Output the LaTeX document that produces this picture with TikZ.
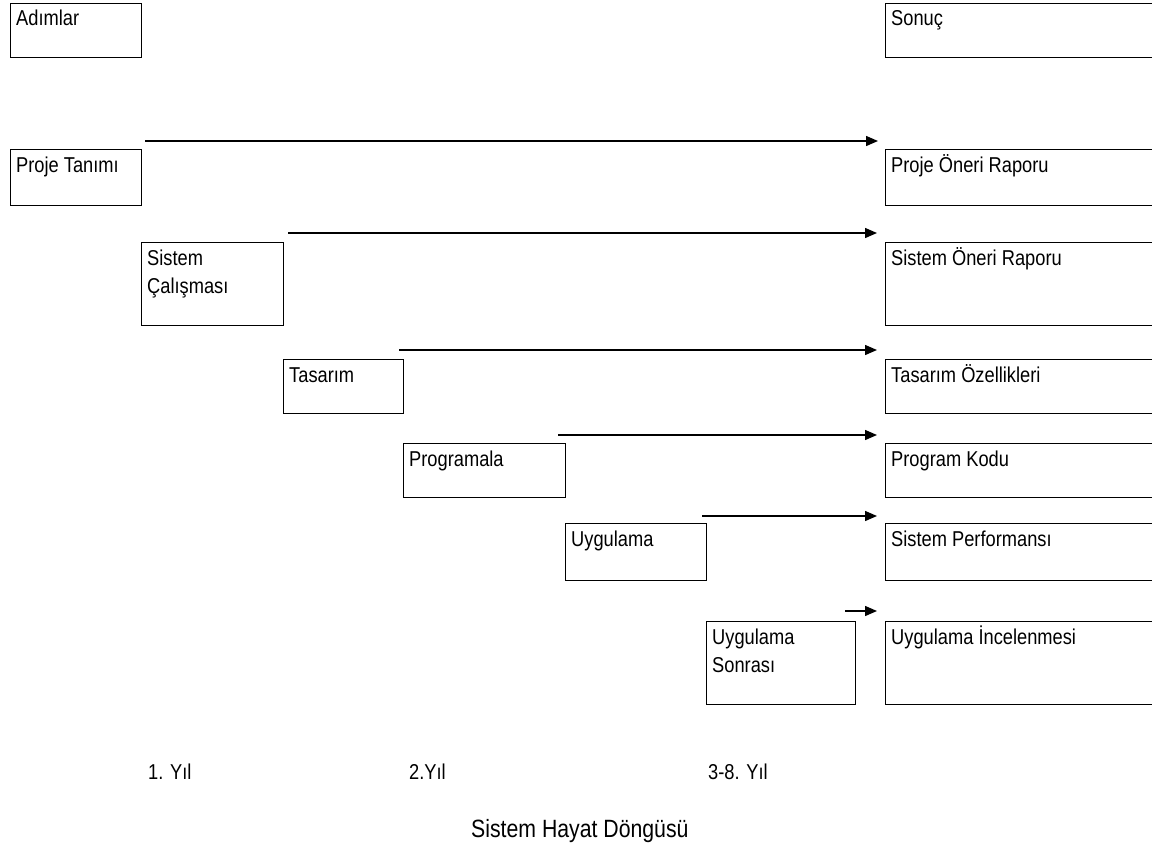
\documentclass[tikz,border=0pt]{standalone}
\usepackage{fontspec}
\setmainfont{Liberation Sans}[FakeStretch=0.85]
\usetikzlibrary{arrows.meta,calc}
\begin{document}
\begin{tikzpicture}[x=1pt,y=-1pt,
  box/.style={draw=black,line width=1pt,rectangle,inner sep=0pt,anchor=north west},
  lbl/.style={anchor=base west,inner sep=0pt,font=\fontsize{21.5}{28}\selectfont,align=left},
  yil/.style={anchor=base west,inner sep=0pt,font=\fontsize{21.5}{28}\selectfont},
  arr/.style={line width=1.4pt,-{Triangle[length=12pt,width=10pt]}}]
\useasboundingbox (0,0) rectangle (1152,847);
% left boxes (steps)
\node[box,minimum width=131pt,minimum height=54pt] (s0) at (10,3) {};
\node[box,minimum width=131pt,minimum height=56pt] (s1) at (10,149) {};
\node[box,minimum width=142pt,minimum height=83pt] (s2) at (141,242) {};
\node[box,minimum width=120pt,minimum height=54pt] (s3) at (283,359) {};
\node[box,minimum width=162pt,minimum height=54pt] (s4) at (403,443) {};
\node[box,minimum width=141pt,minimum height=57pt] (s5) at (565,523) {};
\node[box,minimum width=149pt,minimum height=83pt] (s6) at (706,621) {};
% right boxes (results)
\node[box,minimum width=280pt,minimum height=54pt] (r0) at (885,3) {};
\node[box,minimum width=280pt,minimum height=56pt] (r1) at (885,149) {};
\node[box,minimum width=280pt,minimum height=83pt] (r2) at (885,242) {};
\node[box,minimum width=280pt,minimum height=54pt] (r3) at (885,359) {};
\node[box,minimum width=280pt,minimum height=54pt] (r4) at (885,443) {};
\node[box,minimum width=280pt,minimum height=57pt] (r5) at (885,523) {};
\node[box,minimum width=280pt,minimum height=83pt] (r6) at (885,621) {};
% labels
\node[lbl] (ts0) at ($(s0.north west)+(6,22)$) {Adımlar};
\node[lbl] (ts1) at ($(s1.north west)+(6,23)$) {Proje Tanımı};
\node[lbl] (ts2) at ($(s2.north west)+(6,51)$) {Sistem\\Çalışması};
\node[lbl] (ts3) at ($(s3.north west)+(6,23)$) {Tasarım};
\node[lbl] (ts4) at ($(s4.north west)+(6,23)$) {Programala};
\node[lbl] (ts5) at ($(s5.north west)+(6,23)$) {Uygulama};
\node[lbl] (ts6) at ($(s6.north west)+(6,51)$) {Uygulama\\Sonrası};
\node[lbl] (tr0) at ($(r0.north west)+(6,22)$) {Sonuç};
\node[lbl] (tr1) at ($(r1.north west)+(6,23)$) {Proje Öneri Raporu};
\node[lbl] (tr2) at ($(r2.north west)+(6,23)$) {Sistem Öneri Raporu};
\node[lbl] (tr3) at ($(r3.north west)+(6,23)$) {Tasarım Özellikleri};
\node[lbl] (tr4) at ($(r4.north west)+(6,23)$) {Program Kodu};
\node[lbl] (tr5) at ($(r5.north west)+(6,23)$) {Sistem Performansı};
\node[lbl] (tr6) at ($(r6.north west)+(6,23)$) {Uygulama İncelenmesi};
% arrows
\coordinate (a1s) at (145,141); \coordinate (a1e) at (878,141);
\coordinate (a2s) at (288,233); \coordinate (a2e) at (877,233);
\coordinate (a3s) at (399,350); \coordinate (a3e) at (877,350);
\coordinate (a4s) at (558,435); \coordinate (a4e) at (877,435);
\coordinate (a5s) at (702,516); \coordinate (a5e) at (877,516);
\coordinate (a6s) at (845,611); \coordinate (a6e) at (877,611);
\draw[arr] (a1s) -- (a1e);
\draw[arr] (a2s) -- (a2e);
\draw[arr] (a3s) -- (a3e);
\draw[arr] (a4s) -- (a4e);
\draw[arr] (a5s) -- (a5e);
\draw[arr] (a6s) -- (a6e);
% bottom
\node[yil] (y1) at (148,779) {1. Yıl};
\node[yil] (y2) at (409,779) {2.Yıl};
\node[yil] (y3) at (708,779) {3-8. Yıl};
\node[anchor=base west,inner sep=0pt,font=\fontsize{25}{28}\selectfont] (title) at (471,837) {Sistem Hayat Döngüsü};
\end{tikzpicture}
\end{document}
